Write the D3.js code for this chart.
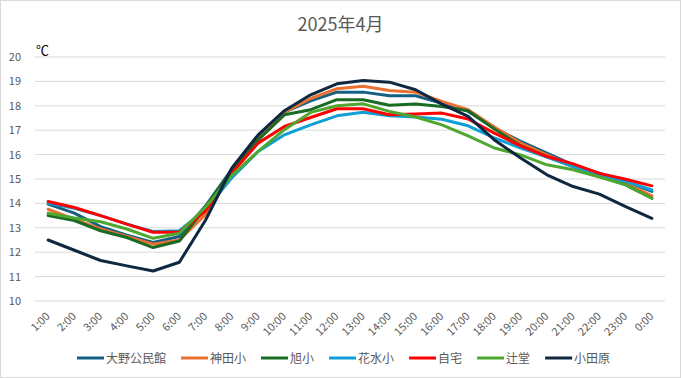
<!DOCTYPE html>
<html>
<head>
<meta charset="utf-8">
<script src="https://cdn.jsdelivr.net/npm/d3@7"></script>
<style>
  body { margin: 0; background: #fff; }
  svg text { font-family: "Noto Sans CJK JP", "Noto Sans", sans-serif; fill: #595959; }
</style>
</head>
<body>
<div id="graf"></div>
<script>
// Data
const hours = ["1:00","2:00","3:00","4:00","5:00","6:00","7:00","8:00","9:00","10:00","11:00","12:00",
  "13:00","14:00","15:00","16:00","17:00","18:00","19:00","20:00","21:00","22:00","23:00","0:00"]
const yTicks = [10, 11, 12, 13, 14, 15, 16, 17, 18, 19, 20]

const oono   = [13.97, 13.6, 13.05, 12.7, 12.4, 12.64, 13.9, 15.4, 16.7, 17.74, 18.2, 18.56, 18.56, 18.41, 18.41, 18.1, 17.77, 17.09, 16.54, 16.06, 15.58, 15.24, 14.9, 14.49]
const kanda  = [13.76, 13.35, 12.95, 12.65, 12.33, 12.5, 13.55, 15.3, 16.6, 17.74, 18.3, 18.7, 18.8, 18.63, 18.56, 18.18, 17.84, 17.13, 16.47, 15.99, 15.54, 15.21, 14.83, 14.31]
const asahi  = [13.5, 13.3, 12.88, 12.6, 12.19, 12.46, 13.85, 15.35, 16.6, 17.63, 17.84, 18.25, 18.25, 18.02, 18.07, 17.97, 17.8, 17.05, 16.36, 15.92, 15.51, 15.13, 14.76, 14.21]
const hanami = [14.02, 13.8, 13.5, 13.15, 12.85, 12.88, 13.75, 15.05, 16.13, 16.81, 17.22, 17.59, 17.74, 17.59, 17.54, 17.45, 17.18, 16.68, 16.27, 15.9, 15.51, 15.17, 14.9, 14.55]
const jitaku = [14.08, 13.83, 13.5, 13.15, 12.82, 12.82, 13.7, 15.25, 16.47, 17.15, 17.52, 17.88, 17.88, 17.63, 17.66, 17.7, 17.46, 16.88, 16.36, 15.92, 15.62, 15.23, 14.99, 14.72]
const tsuji  = [13.6, 13.4, 13.25, 12.95, 12.57, 12.78, 13.85, 15.15, 16.13, 17.02, 17.73, 18.0, 18.08, 17.77, 17.54, 17.22, 16.77, 16.27, 15.99, 15.58, 15.38, 15.08, 14.76, 14.21]
const odawara = [12.5, 12.08, 11.66, 11.44, 11.23, 11.59, 13.32, 15.45, 16.81, 17.8, 18.45, 18.9, 19.04, 18.97, 18.66, 18.07, 17.57, 16.6, 15.86, 15.17, 14.69, 14.38, 13.87, 13.39]

const series = [
  { name: "大野公民館", values: oono, color: "#156082" },
  { name: "神田小", values: kanda, color: "#E97132" },
  { name: "旭小", values: asahi, color: "#196B24" },
  { name: "花水小", values: hanami, color: "#0F9ED5" },
  { name: "自宅", values: jitaku, color: "#FF0000" },
  { name: "辻堂", values: tsuji, color: "#4EA72E" },
  { name: "小田原", values: odawara, color: "#0E2841" },
]

const anchoTotal = 681
const altoTotal = 378
const margins = { left: 35, top: 57, right: 16, bottom: 77 }
const ancho = anchoTotal - margins.left - margins.right
const alto = altoTotal - margins.top - margins.bottom

const svg = d3.select("#graf")
  .append("svg")
  .attr("width", anchoTotal)
  .attr("height", altoTotal)

svg.append("rect")
  .attr("x", 0.5).attr("y", 0.5)
  .attr("width", anchoTotal - 1).attr("height", altoTotal - 1)
  .attr("fill", "#fff").attr("stroke", "#d9d9d9")

// Escaladores
const x = d3.scalePoint().domain(hours).range([0, ancho]).padding(0.5)
const y = d3.scaleLinear().domain([10, 20]).range([alto, 0])

const g = svg.append("g")
  .attr("transform", `translate(${margins.left}, ${margins.top})`)

// grid
g.selectAll("line.grid")
  .data(yTicks)
  .join("line")
  .attr("class", "grid")
  .attr("x1", 0).attr("x2", ancho)
  .attr("y1", d => y(d)).attr("y2", d => y(d))
  .attr("stroke", "#d9d9d9").attr("stroke-width", 1)

// y labels
const yAxis = g.append("g")
  .call(d3.axisLeft(y).tickValues(yTicks).tickSize(0).tickPadding(14))
yAxis.select(".domain").remove()
yAxis.selectAll("text").style("font-size", "11px").attr("fill", "#595959")

// x labels
const xAxis = g.append("g")
  .attr("transform", `translate(0, ${alto})`)
  .call(d3.axisBottom(x).tickSize(0))
xAxis.select(".domain").remove()
xAxis.selectAll("text")
  .style("font-size", "11px")
  .attr("fill", "#595959")
  .attr("text-anchor", "end")
  .attr("dy", 0)
  .attr("y", 0)
  .attr("transform", "translate(2, 16) rotate(-45)")

// lines
const line = d3.line()
  .x((d, i) => x(hours[i]))
  .y(d => y(d))

g.selectAll("path.serie")
  .data(series)
  .join("path")
  .attr("class", "serie")
  .attr("d", d => line(d.values))
  .attr("fill", "none")
  .attr("stroke", d => d.color)
  .attr("stroke-width", 3)
  .attr("stroke-linejoin", "round")
  .attr("stroke-linecap", "round")

// title + unit
svg.append("text")
  .attr("x", anchoTotal / 2).attr("y", 31)
  .attr("text-anchor", "middle")
  .style("font-size", "18px")
  .text("2025年4月")

svg.append("text")
  .attr("x", 36).attr("y", 55)
  .style("font-size", "13px")
  .style("fill", "#000")
  .text("℃")

// legend
const legend = svg.append("g").attr("transform", "translate(77, 358)")
let lx = 0
series.forEach(s => {
  const it = legend.append("g").attr("transform", `translate(${lx}, 0)`)
  it.append("line")
    .attr("x1", 0).attr("x2", 27).attr("y1", 0).attr("y2", 0)
    .attr("stroke", s.color).attr("stroke-width", 3)
  const t = it.append("text")
    .attr("x", 29).attr("y", 4.5)
    .style("font-size", "12px")
    .text(s.name)
  lx += 29 + t.node().getComputedTextLength() + 15
})
</script>
</body>
</html>
